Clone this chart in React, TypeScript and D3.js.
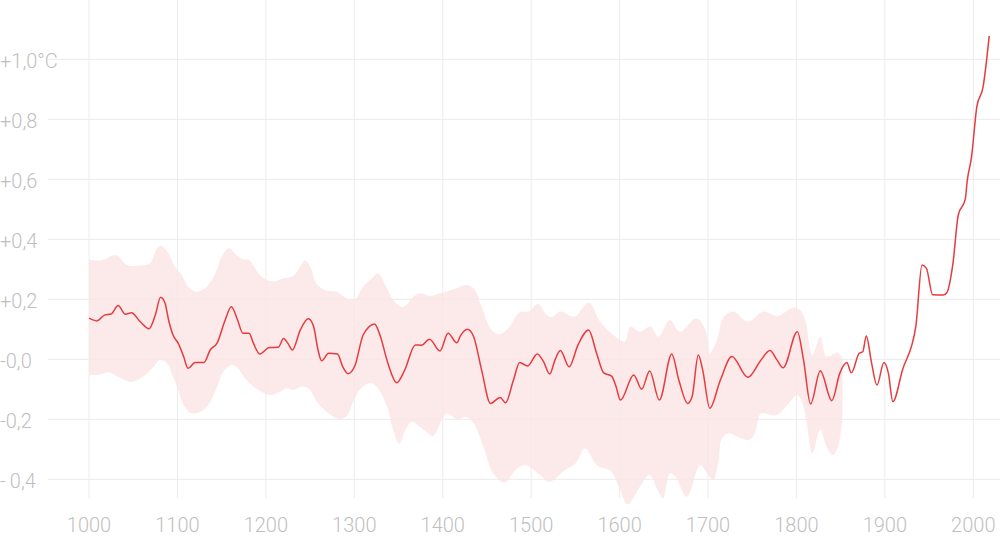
import React from "react";
import * as d3 from "d3";

const lineYears = [1000,1009,1018,1025,1033,1041,1048,1058,1068,1075,1081,1086,1090,1095,1101,1107,1112,1120,1130,1137,1145,1154,1161,1168,1174,1181,1186,1193,1204,1214,1220,1225,1230,1239,1248,1254,1259,1263,1271,1281,1287,1293,1301,1310,1323,1329,1338,1348,1357,1369,1376,1385,1397,1406,1416,1420,1428,1435,1444,1454,1465,1471,1480,1487,1496,1507,1514,1521,1527,1533,1543,1553,1565,1574,1582,1591,1596,1601,1616,1625,1634,1645,1659,1667,1677,1682,1689,1694,1702,1714,1727,1745,1760,1770,1778,1785,1801,1808,1816,1827,1840,1849,1857,1862,1871,1875,1879,1885,1891,1899,1904,1909,1920,1935,1942,1947,1954,1966,1970,1977,1983,1991,1993,1998,2004,2011,2018];
const lineValues = [0.137,0.128,0.148,0.151,0.179,0.150,0.155,0.125,0.102,0.148,0.207,0.187,0.131,0.081,0.053,0.009,-0.030,-0.011,-0.011,0.031,0.055,0.131,0.175,0.131,0.087,0.087,0.053,0.018,0.039,0.040,0.069,0.053,0.031,0.098,0.135,0.109,0.031,-0.005,0.020,0.018,-0.025,-0.048,-0.019,0.081,0.118,0.081,-0.013,-0.078,-0.036,0.048,0.047,0.067,0.028,0.087,0.055,0.078,0.100,0.075,-0.036,-0.147,-0.127,-0.145,-0.069,-0.011,-0.022,0.018,-0.008,-0.049,-0.002,0.029,-0.025,0.048,0.098,0.020,-0.045,-0.056,-0.091,-0.136,-0.052,-0.100,-0.039,-0.136,0.018,-0.069,-0.147,-0.125,0.014,-0.036,-0.163,-0.069,0.009,-0.060,-0.002,0.029,-0.002,-0.028,0.092,-0.002,-0.149,-0.038,-0.138,-0.047,-0.011,-0.045,0.020,0.025,0.078,-0.013,-0.086,-0.011,-0.047,-0.141,-0.035,0.110,0.314,0.303,0.215,0.214,0.222,0.320,0.481,0.535,0.592,0.675,0.842,0.907,1.078];

const upperYears = [1000,1014,1031,1043,1056,1069,1077,1082,1090,1097,1105,1112,1122,1133,1143,1150,1158,1165,1173,1181,1188,1195,1208,1220,1231,1239,1244,1250,1257,1267,1280,1293,1301,1310,1320,1327,1335,1344,1354,1359,1367,1374,1386,1397,1412,1427,1435,1444,1454,1463,1474,1487,1497,1508,1516,1523,1533,1549,1565,1578,1593,1606,1612,1623,1635,1644,1657,1668,1687,1697,1702,1710,1718,1729,1745,1763,1778,1797,1804,1810,1818,1827,1834,1847,1852];
const upperValues = [0.333,0.329,0.347,0.314,0.312,0.320,0.370,0.378,0.353,0.309,0.281,0.242,0.225,0.242,0.287,0.342,0.370,0.353,0.334,0.331,0.303,0.275,0.259,0.270,0.278,0.309,0.329,0.309,0.253,0.231,0.225,0.200,0.200,0.242,0.270,0.287,0.248,0.198,0.175,0.181,0.209,0.220,0.211,0.220,0.233,0.248,0.237,0.175,0.103,0.084,0.103,0.157,0.159,0.184,0.153,0.140,0.159,0.142,0.189,0.125,0.081,0.059,0.109,0.092,0.109,0.075,0.131,0.092,0.137,0.098,0.020,0.064,0.142,0.159,0.125,0.159,0.144,0.173,0.164,0.131,0.014,0.075,0.009,0.022,0.000];

const lowerYears = [1000,1011,1022,1033,1048,1061,1073,1080,1088,1095,1101,1107,1116,1126,1135,1144,1152,1161,1167,1175,1184,1195,1205,1216,1222,1231,1242,1250,1259,1271,1282,1291,1298,1306,1318,1327,1337,1344,1351,1357,1365,1374,1384,1389,1399,1405,1416,1427,1435,1446,1457,1470,1484,1495,1510,1521,1537,1550,1561,1575,1590,1600,1609,1623,1634,1643,1649,1657,1663,1676,1691,1699,1706,1712,1715,1722,1745,1752,1757,1760,1777,1788,1801,1806,1811,1818,1827,1834,1841,1847,1852];
const lowerValues = [-0.052,-0.052,-0.043,-0.058,-0.075,-0.058,-0.025,-0.002,-0.013,-0.058,-0.102,-0.152,-0.180,-0.175,-0.152,-0.097,-0.041,-0.019,-0.025,-0.058,-0.086,-0.108,-0.119,-0.108,-0.097,-0.102,-0.091,-0.102,-0.147,-0.180,-0.199,-0.191,-0.147,-0.102,-0.078,-0.097,-0.158,-0.236,-0.282,-0.241,-0.208,-0.225,-0.247,-0.256,-0.202,-0.180,-0.200,-0.193,-0.213,-0.291,-0.380,-0.411,-0.363,-0.354,-0.386,-0.408,-0.372,-0.347,-0.297,-0.355,-0.372,-0.430,-0.484,-0.425,-0.386,-0.436,-0.463,-0.380,-0.391,-0.458,-0.352,-0.380,-0.402,-0.336,-0.269,-0.247,-0.269,-0.252,-0.197,-0.180,-0.186,-0.158,-0.119,-0.140,-0.200,-0.313,-0.233,-0.291,-0.319,-0.291,-0.200];

const yTicks = [1.0, 0.8, 0.6, 0.4, 0.2, 0.0, -0.2, -0.4];
const yTickLabels = ["+1,0°C", "+0,8", "+0,6", "+0,4", "+0,2", "-0,0", "-0,2", "-\u20090,4"];
const yGridExtra = [1.2];
const xTicks = [1000, 1100, 1200, 1300, 1400, 1500, 1600, 1700, 1800, 1900, 2000];

const W = 1000;
const H = 539;

export default function App() {
  const x = d3.scaleLinear().domain([1000, 2000]).range([89, 973.3]);
  const y = d3.scaleLinear().domain([0, 1]).range([359.3, 59.3]);

  const line = d3
    .line<number>()
    .x((_, i) => x(lineYears[i]))
    .y((d) => y(d))
    .curve(d3.curveMonotoneX);

  const edgeLine = d3
    .line<[number, number]>()
    .x((d) => x(d[0]))
    .y((d) => y(d[1]))
    .curve(d3.curveCatmullRom.alpha(0.5));

  const upperPts: [number, number][] = upperYears.map((yr, i) => [yr, upperValues[i]]);
  const lowerPts: [number, number][] = lowerYears
    .map((yr, i) => [yr, lowerValues[i]] as [number, number])
    .reverse();
  const bandPath =
    (edgeLine(upperPts) || "") +
    (edgeLine(lowerPts) || "").replace(/^M/, "L") +
    "Z";

  const fontFamily = "'Roboto Light', Roboto, 'Noto Sans', sans-serif";
  const textColor = "#bfbfbf";
  const gridColor = "#ececec";

  return (
    <svg
      width={W}
      height={H}
      style={{ position: "absolute", left: 0, top: 0, background: "#fff" }}
    >
      {[...yGridExtra, ...yTicks].map((t) => (
        <line
          key={"h" + t}
          x1={48}
          x2={W}
          y1={y(t)}
          y2={y(t)}
          stroke={gridColor}
          strokeWidth={1}
        />
      ))}
      {xTicks.map((t) => (
        <line
          key={"v" + t}
          x1={x(t)}
          x2={x(t)}
          y1={0}
          y2={498}
          stroke={gridColor}
          strokeWidth={1}
        />
      ))}
      <path d={bandPath} fill="#fbe4e4" fillOpacity={0.8} stroke="none" />
      <path
        d={line(lineValues) || ""}
        fill="none"
        stroke="#e63b3f"
        strokeWidth={1.5}
        strokeLinejoin="round"
      />
      {yTicks.map((t, i) => (
        <text
          key={"yl" + t}
          x={0}
          y={y(t) + 8.5}
          fontFamily={fontFamily}
          fontWeight={300}
          fontSize={20}
          fill={textColor}
        >
          {yTickLabels[i]}
        </text>
      ))}
      {xTicks.map((t) => (
        <text
          key={"xl" + t}
          x={x(t)}
          y={532}
          textAnchor="middle"
          fontFamily={fontFamily}
          fontWeight={300}
          fontSize={20}
          fill={textColor}
        >
          {t}
        </text>
      ))}
    </svg>
  );
}
